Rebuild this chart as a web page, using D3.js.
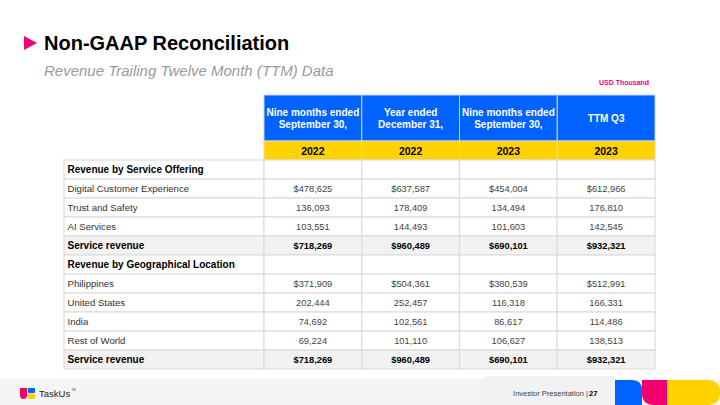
<!DOCTYPE html>
<html><head><meta charset="utf-8">
<script src="https://cdn.jsdelivr.net/npm/d3@7"></script>
<style>
html,body{margin:0;padding:0;background:#fff;}
svg{display:block;font-family:"Liberation Sans",Arial,Helvetica,sans-serif;}
</style></head>
<body><svg id="c" width="720" height="405"></svg>
<script>
const colHeaders = [["Nine months ended","September 30,"],["Year ended","December 31,"],["Nine months ended","September 30,"],["TTM Q3"]];
const colYears = ["2022","2022","2023","2023"];
const rowLabels = ["Revenue by Service Offering","Digital Customer Experience","Trust and Safety","AI Services","Service revenue","Revenue by Geographical Location","Philippines","United States","India","Rest of World","Service revenue"];
const rowKinds = ["section","item","item","item","total","section","item","item","item","item","total"];
const col2022Nine = [null,"$478,625","136,093","103,551","$718,269",null,"$371,909","202,444","74,692","69,224","$718,269"];
const col2022Year = [null,"$637,587","178,409","144,493","$960,489",null,"$504,361","252,457","102,561","101,110","$960,489"];
const col2023Nine = [null,"$454,004","134,494","101,603","$690,101",null,"$380,539","116,318","86,617","106,627","$690,101"];
const col2023TTM = [null,"$612,966","176,810","142,545","$932,321",null,"$512,991","166,331","114,486","138,513","$932,321"];
const columns = [col2022Nine,col2022Year,col2023Nine,col2023TTM];

const svg = d3.select("#c");
const BLUE="#0062ff", YELLOW="#ffd200", PINK="#f5007a", GRID="#dcdcdc";

// title
svg.append("path").attr("d","M24,36 L37,43 L24,50 Z").attr("fill",PINK);
svg.append("text").attr("x",44).attr("y",50).attr("font-size",20).attr("font-weight","bold").attr("fill","#000").text("Non-GAAP Reconciliation");
svg.append("text").attr("x",44).attr("y",76).attr("font-size",15).attr("font-style","italic").attr("fill","#9a9a9a").text("Revenue Trailing Twelve Month (TTM) Data");
svg.append("text").attr("x",624).attr("y",85).attr("text-anchor","middle").attr("font-size",7).attr("font-weight","bold").attr("fill",PINK).text("USD Thousand");

// scales
const x = d3.scaleBand().domain(d3.range(colYears.length)).range([264,655]);
const y = d3.scaleBand().domain(d3.range(rowLabels.length)).range([160,369]);
const labelX0 = 64, labelX1 = 264;
const headTop = 95, headMid = 141;

// header blue
const hg = svg.append("g");
hg.selectAll("rect.h").data(colHeaders).join("rect")
  .attr("x",(d,i)=>x(i)).attr("y",headTop).attr("width",x.bandwidth()).attr("height",headMid-headTop)
  .attr("fill",BLUE).attr("stroke","#c8d4ee").attr("stroke-width",1);
hg.selectAll("text.h").data(colHeaders).join("text")
  .attr("x",(d,i)=>x(i)+x.bandwidth()/2)
  .attr("text-anchor","middle").attr("fill","#fff").attr("font-size",10).attr("font-weight","bold")
  .each(function(d){
    const t=d3.select(this); const mid=(headTop+headMid)/2; const lh=12;
    const start = mid - (d.length-1)*lh/2 + 3.5;
    d.forEach((s,k)=>t.append("tspan").attr("x",t.attr("x")).attr("y",start+k*lh).text(s));
  });
hg.selectAll("rect.yr").data(colYears).join("rect")
  .attr("x",(d,i)=>x(i)).attr("y",headMid).attr("width",x.bandwidth()).attr("height",y.range()[0]-headMid)
  .attr("fill",YELLOW).attr("stroke","#e6d9a0").attr("stroke-width",1);
hg.selectAll("text.yr").data(colYears).join("text")
  .attr("x",(d,i)=>x(i)+x.bandwidth()/2).attr("y",(headMid+y.range()[0])/2+4)
  .attr("text-anchor","middle").attr("font-size",10.5).attr("font-weight","bold").attr("fill","#000").text(d=>d);

// body
const bg = svg.append("g");
const rows = bg.selectAll("g.row").data(rowLabels.map((l,i)=>({l,i,k:rowKinds[i]}))).join("g");
rows.append("rect").attr("x",labelX0).attr("y",d=>y(d.i)).attr("width",labelX1-labelX0).attr("height",y.bandwidth())
  .attr("fill",d=>d.k==="total"?"#f2f2f2":"#fff").attr("stroke",GRID).attr("stroke-width",1.2);
rows.append("text").attr("x",labelX0+3.5).attr("y",d=>y(d.i)+y.bandwidth()/2+3.8)
  .attr("font-size",d=>d.k==="item"?9.6:10).attr("font-weight",d=>d.k==="item"?"normal":"bold")
  .attr("fill",d=>d.k==="item"?"#333":"#000").text(d=>d.l);
columns.forEach((col,ci)=>{
  rows.append("rect").attr("x",x(ci)).attr("y",d=>y(d.i)).attr("width",x.bandwidth()).attr("height",y.bandwidth())
    .attr("fill",d=>d.k==="total"?"#f2f2f2":"#fff").attr("stroke",GRID).attr("stroke-width",1.2);
  rows.append("text").attr("x",x(ci)+x.bandwidth()/2).attr("y",d=>y(d.i)+y.bandwidth()/2+3.5)
    .attr("text-anchor","middle").attr("font-size",9.3)
    .attr("font-weight",d=>d.k==="total"?"bold":"normal")
    .attr("fill",d=>d.k==="total"?"#000":"#444")
    .text(d=>col[d.i]||"");
});

// footer
svg.append("rect").attr("x",0).attr("y",379).attr("width",720).attr("height",26).attr("fill","#f5f5f5");
svg.append("path").attr("d","M490,376 L615,376 L615,405 L480,405 L480,386 Q480,376 490,376 Z").attr("fill","#f2f2f2");
svg.append("text").attr("x",588).attr("y",396).attr("text-anchor","end").attr("font-size",7.5).attr("fill","#444").text("Investor Presentation | ");
svg.append("text").attr("x",589).attr("y",396).attr("font-size",7.5).attr("font-weight","bold").attr("fill","#000").text("27");
// decorative shapes
svg.append("path").attr("d","M615,380 L632,380 Q642,380 642,390 L642,405 L615,405 Z").attr("fill",BLUE);
svg.append("path").attr("d","M642,380 L667,380 L667,405 L654,405 Q642,405 642,393 Z").attr("fill","#f2006f");
svg.append("path").attr("d","M667,380 L707,380 Q720,380 720,392.5 Q720,405 707,405 L667,405 Z").attr("fill",YELLOW);
// TaskUs logo
svg.append("path").attr("d","M20,388 L27,388 L27,395 Q27,399 23.5,399 Q20,399 20,395 Z").attr("fill","#f0006e");
svg.append("rect").attr("x",28).attr("y",388).attr("width",7).attr("height",5).attr("rx",1).attr("fill",BLUE);
svg.append("rect").attr("x",28).attr("y",393.5).attr("width",7).attr("height",5.5).attr("rx",1.5).attr("fill",YELLOW);
svg.append("text").attr("x",39).attr("y",397).attr("font-size",9.5).attr("fill","#222").text("TaskUs");
svg.append("text").attr("x",71.5).attr("y",391).attr("font-size",3).attr("fill","#444").text("TM");
</script></body></html>
